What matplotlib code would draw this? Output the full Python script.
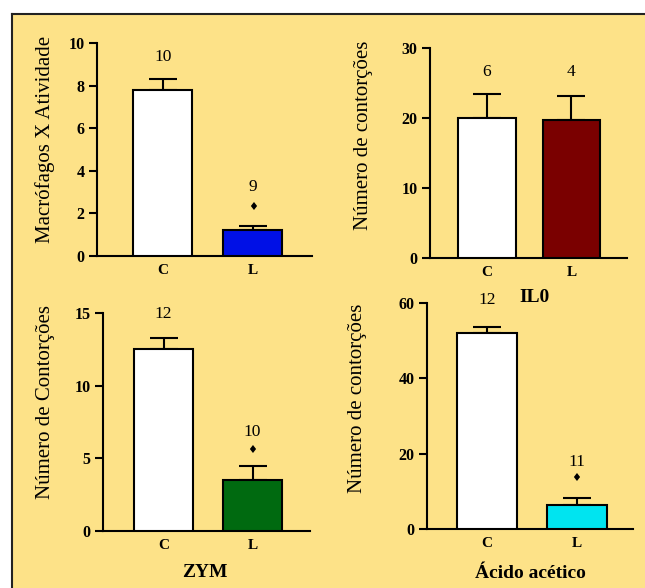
import matplotlib
matplotlib.use("Agg")
import matplotlib.pyplot as plt
from matplotlib.patches import Rectangle
from matplotlib.lines import Line2D

# bar chart of four experiments, control (C) vs treated (L)
cats = ["C", "L"]

macro_vals = [7.8, 1.2]
macro_err = [0.5, 0.2]
macro_n = ["10", "9"]

il_vals = [20.0, 19.7]
il_err = [3.4, 3.4]
il_n = ["6", "4"]

zym_vals = [12.5, 3.5]
zym_err = [0.8, 1.0]
zym_n = ["12", "10"]

acet_vals = [52.0, 6.5]
acet_err = [1.7, 1.7]
acet_n = ["12", "11"]

bg = "#fde288"
serif = ["Liberation Serif", "DejaVu Serif"]

fig = plt.figure(figsize=(6.45, 5.88), dpi=100)
fig.patch.set_facecolor("white")
W, H = 645.0, 588.0

# yellow panel with dark border on left and top
fig.patches.append(Rectangle((12 / W, 0), 1 - 12 / W, 1 - 14 / H, transform=fig.transFigure,
                             facecolor=bg, edgecolor="none", zorder=-10))
fig.lines.append(Line2D([12 / W, 12 / W], [0, 1 - 14 / H], transform=fig.transFigure, color="#222", lw=1.5, zorder=-5))
fig.lines.append(Line2D([12 / W, 1], [1 - 14 / H, 1 - 14 / H], transform=fig.transFigure, color="#222", lw=1.5, zorder=-5))


def make_panel(px, vals, err, nlab, color, ylim, yticks, ylabel, ylab_xy, xlabel, xlab_xy,
               nlab_y, star_y, xlim, width):
    x0, x1, ytop, ybot = px
    ax = fig.add_axes([x0 / W, 1 - ybot / H, (x1 - x0) / W, (ybot - ytop) / H])
    ax.set_facecolor("none")
    ax.set_zorder(5)
    pos = [0, 1]
    ax.bar(pos, vals, width=width, color=["white", color], edgecolor="black", linewidth=1.5, zorder=3)
    ax.errorbar(pos, vals, yerr=[[0, 0], err], fmt="none", ecolor="black", elinewidth=1.5,
                capsize=10, capthick=1.5, zorder=2)
    ax.set_xlim(*xlim)
    ax.set_ylim(*ylim)
    ax.set_yticks(yticks)
    ax.set_yticklabels([str(t) for t in yticks], fontfamily=serif, fontweight="bold", fontsize=11.5)
    ax.set_xticks(pos)
    ax.set_xticklabels(cats, fontfamily=serif, fontweight="bold", fontsize=11)
    ax.tick_params(axis="x", length=0, pad=6)
    ax.tick_params(axis="y", length=6, width=1.5, pad=3)
    for s in ["top", "right"]:
        ax.spines[s].set_visible(False)
    for s in ["left", "bottom"]:
        ax.spines[s].set_linewidth(1.5)
    ax.set_ylabel(ylabel, fontfamily=serif, fontsize=15)
    ax.yaxis.set_label_coords(*ylab_xy)
    if xlabel:
        ax.text(xlab_xy[0], xlab_xy[1], xlabel, transform=ax.transAxes, ha="center", va="center",
                fontfamily=serif, fontweight="bold", fontsize=14, clip_on=False)
    for i in range(2):
        ax.text(pos[i], nlab_y[i], nlab[i], ha="center", va="center", fontfamily=serif,
                fontsize=12.5, clip_on=False)
    if star_y is not None:
        ax.text(1, star_y, "\u2666", ha="center", va="center", fontfamily=["DejaVu Sans"],
                fontsize=8, clip_on=False)
    return ax


make_panel((97, 312, 43, 256), macro_vals, macro_err, macro_n, "#0010e6", (0, 10), [0, 2, 4, 6, 8, 10],
           "Macrófagos X Atividade", (-0.195, 0.545), None, None,
           [9.35, 3.25], 2.3, (-0.73, 1.66), 0.66)

make_panel((430, 627, 48, 258), il_vals, il_err, il_n, "#7a0000", (0, 30), [0, 10, 20, 30],
           "Número de contorções", (-0.29, 0.585), "IL0", (0.53, -0.19),
           [26.6, 26.6], None, (-0.675, 1.657), 0.686)

make_panel((103, 310, 313, 531), zym_vals, zym_err, zym_n, "#006a10", (0, 15), [0, 5, 10, 15],
           "Número de Contorções", (-0.232, 0.59), "ZYM", (0.49, -0.19),
           [14.9, 6.8], 5.6, (-0.68, 1.646), 0.663)

make_panel((427, 633, 303, 529), acet_vals, acet_err, acet_n, "#00e4f0", (0, 60), [0, 20, 40, 60],
           "Número de contorções", (-0.29, 0.58), "Ácido acético", (0.5, -0.195),
           [60.8, 17.8], 13.5, (-0.67, 1.63), 0.67)

fig.savefig("out.png", dpi=100, facecolor=fig.get_facecolor())
